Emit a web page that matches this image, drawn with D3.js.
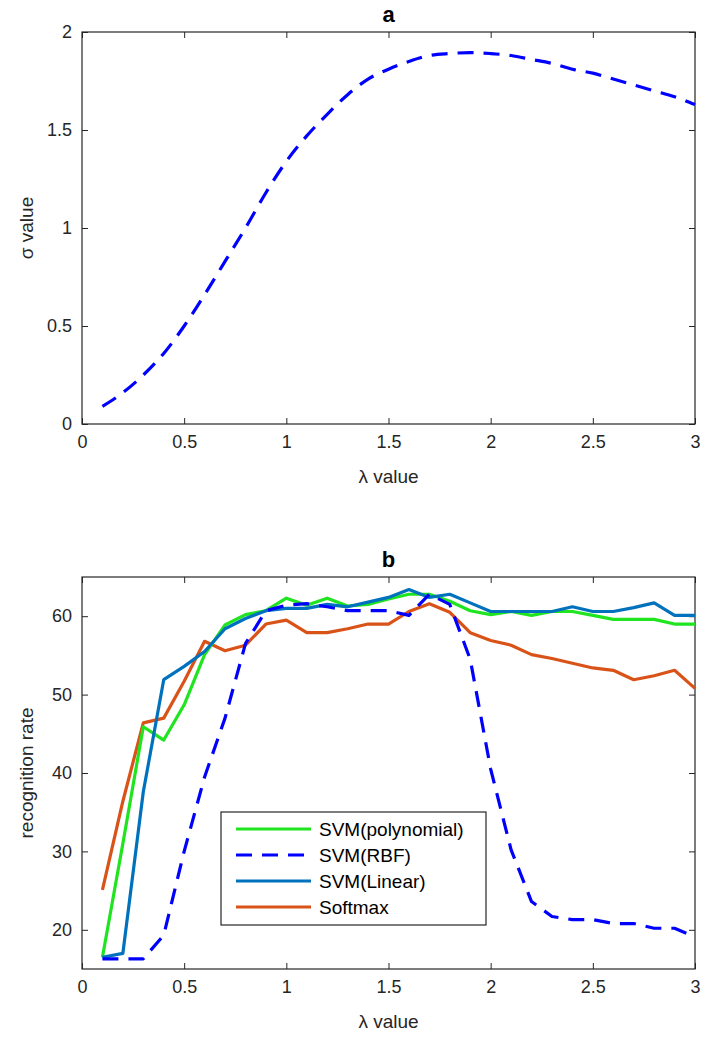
<!DOCTYPE html>
<html>
<head>
<meta charset="utf-8">
<script src="https://cdn.jsdelivr.net/npm/d3@7"></script>
<style>
  body { margin: 0; background: #fff; }
  text { font-family: "Liberation Sans", Arial, sans-serif; fill: #262626; }
</style>
</head>
<body>
<div id="chart"></div>
<script>
// lambda steps shared by every series
var lambdas = [0.1, 0.2, 0.3, 0.4, 0.5, 0.6, 0.7, 0.8, 0.9, 1.0,
               1.1, 1.2, 1.3, 1.4, 1.5, 1.6, 1.7, 1.8, 1.9, 2.0,
               2.1, 2.2, 2.3, 2.4, 2.5, 2.6, 2.7, 2.8, 2.9, 3.0];

// panel a: sigma value
var sigmaValues = [0.09, 0.16, 0.25, 0.36, 0.50, 0.66, 0.83, 1.00, 1.18, 1.34,
                   1.47, 1.58, 1.68, 1.76, 1.81, 1.85, 1.88, 1.89, 1.895, 1.89,
                   1.88, 1.86, 1.84, 1.81, 1.79, 1.76, 1.73, 1.70, 1.67, 1.63];

// panel b: recognition rate
var svmPoly = [16.5, 31.0, 45.9, 44.2, 48.7, 55.1, 58.9, 60.2, 60.7, 62.3,
               61.4, 62.3, 61.3, 61.5, 62.2, 62.8, 62.8, 61.9, 60.7, 60.2,
               60.6, 60.1, 60.6, 60.6, 60.1, 59.6, 59.6, 59.6, 59.0, 59.0];
var svmRbf = [16.3, 16.3, 16.3, 19.3, 30.0, 39.5, 47.0, 56.5, 60.7, 61.4,
              61.6, 61.2, 60.7, 60.7, 60.7, 60.1, 62.8, 61.5, 54.5, 40.5,
              30.2, 23.6, 21.7, 21.3, 21.3, 20.8, 20.8, 20.2, 20.2, 19.1];
var svmLinear = [16.5, 17.0, 37.6, 51.9, 53.6, 55.5, 58.4, 59.7, 60.7, 61.0,
                 61.0, 61.5, 61.2, 61.8, 62.4, 63.4, 62.4, 62.8, 61.7, 60.6,
                 60.6, 60.6, 60.6, 61.2, 60.6, 60.6, 61.1, 61.7, 60.1, 60.1];
var softmax = [25.1, 36.4, 46.4, 47.0, 51.7, 56.8, 55.6, 56.3, 59.0, 59.5,
               57.9, 57.9, 58.4, 59.0, 59.0, 60.6, 61.6, 60.5, 57.9, 56.9,
               56.3, 55.1, 54.6, 54.0, 53.4, 53.1, 51.9, 52.4, 53.1, 50.8];

var xTicks = [0, 0.5, 1, 1.5, 2, 2.5, 3];
var yTicksA = [0, 0.5, 1, 1.5, 2];
var yTicksB = [20, 30, 40, 50, 60];

var seriesNames = ["SVM(polynomial)", "SVM(RBF)", "SVM(Linear)", "Softmax"];
var seriesColors = ["#1fe41f", "#0000ff", "#0072bd", "#d95319"];
var seriesDash = [null, "16,10", null, null];

var svg = d3.select("#chart").append("svg")
    .attr("width", 712)
    .attr("height", 1040);

// both panels share the same plot box size
var left = 82, right = 695, plotH = 392;

function axesPanel(top, yDomain, yTicks, title, yLabel) {
    var x = d3.scaleLinear().domain([0, 3]).range([left, right]);
    var y = d3.scaleLinear().domain(yDomain).range([top + plotH, top]);
    var g = svg.append("g");

    // ticks pointing inward on all four sides
    g.append("g")
        .attr("transform", "translate(0," + (top + plotH) + ")")
        .call(d3.axisBottom(x).tickValues(xTicks).tickSizeInner(-6).tickSizeOuter(0).tickPadding(11).tickFormat(d3.format("")));
    g.append("g")
        .attr("transform", "translate(0," + top + ")")
        .call(d3.axisTop(x).tickValues(xTicks).tickSizeInner(-6).tickSizeOuter(0).tickFormat(""));
    g.append("g")
        .attr("transform", "translate(" + left + ",0)")
        .call(d3.axisLeft(y).tickValues(yTicks).tickSizeInner(-6).tickSizeOuter(0).tickPadding(10).tickFormat(d3.format("")));
    g.append("g")
        .attr("transform", "translate(" + right + ",0)")
        .call(d3.axisRight(y).tickValues(yTicks).tickSizeInner(-6).tickSizeOuter(0).tickFormat(""));

    g.selectAll(".domain").remove();
    g.selectAll(".tick line").attr("stroke", "#262626");
    g.selectAll(".tick text")
        .attr("font-size", 18)
        .attr("font-family", "Liberation Sans, Arial, sans-serif")
        .attr("fill", "#262626");

    // box
    g.append("rect")
        .attr("x", left)
        .attr("y", top)
        .attr("width", right - left)
        .attr("height", plotH)
        .attr("fill", "none")
        .attr("stroke", "#262626")
        .attr("stroke-width", 1.2);

    g.append("text")
        .attr("x", (left + right) / 2)
        .attr("y", top - 10)
        .attr("text-anchor", "middle")
        .attr("font-size", 22)
        .attr("font-weight", "bold")
        .style("fill", "#000")
        .text(title);

    g.append("text")
        .attr("x", (left + right) / 2)
        .attr("y", top + plotH + 59)
        .attr("text-anchor", "middle")
        .attr("font-size", 19)
        .text("\u03bb value");

    g.append("text")
        .attr("transform", "translate(33," + (top + plotH / 2) + ") rotate(-90)")
        .attr("text-anchor", "middle")
        .attr("font-size", 19)
        .text(yLabel);

    return {x: x, y: y, g: g};
}

// Panel a
var pa = axesPanel(32, [0, 2], yTicksA, "a", "\u03c3 value");
var lineA = d3.line()
    .x(function(d, i) { return pa.x(lambdas[i]); })
    .y(function(d) { return pa.y(d); })
    .curve(d3.curveMonotoneX);
pa.g.append("path")
    .datum(sigmaValues)
    .attr("d", lineA)
    .attr("fill", "none")
    .attr("stroke", "#0000ff")
    .attr("stroke-width", 3.2)
    .attr("stroke-dasharray", "16,10");

// Panel b
var pb = axesPanel(577, [15, 65], yTicksB, "b", "recognition rate");
var lineB = d3.line()
    .x(function(d, i) { return pb.x(lambdas[i]); })
    .y(function(d) { return pb.y(d); });
var seriesB = [svmPoly, svmRbf, svmLinear, softmax];

// draw order: softmax under, then polynomial, linear, RBF on top
[3, 0, 2, 1].forEach(function(k) {
    pb.g.append("path")
        .datum(seriesB[k])
        .attr("d", lineB)
        .attr("fill", "none")
        .attr("stroke", seriesColors[k])
        .attr("stroke-width", 3.2)
        .attr("stroke-linejoin", "round")
        .attr("stroke-dasharray", seriesDash[k]);
});

// Legend
var lg = pb.g.append("g").attr("transform", "translate(221,812)");
lg.append("rect")
    .attr("width", 265)
    .attr("height", 113)
    .attr("fill", "#fff")
    .attr("stroke", "#262626")
    .attr("stroke-width", 1.2);
seriesNames.forEach(function(name, i) {
    var yy = 17 + i * 26;
    lg.append("line")
        .attr("x1", 15)
        .attr("x2", 90)
        .attr("y1", yy)
        .attr("y2", yy)
        .attr("stroke", seriesColors[i])
        .attr("stroke-width", 3.2)
        .attr("stroke-dasharray", seriesDash[i]);
    lg.append("text")
        .attr("x", 98)
        .attr("y", yy + 7)
        .attr("font-size", 19)
        .style("fill", "#000")
        .text(name);
});
</script>
</body>
</html>
